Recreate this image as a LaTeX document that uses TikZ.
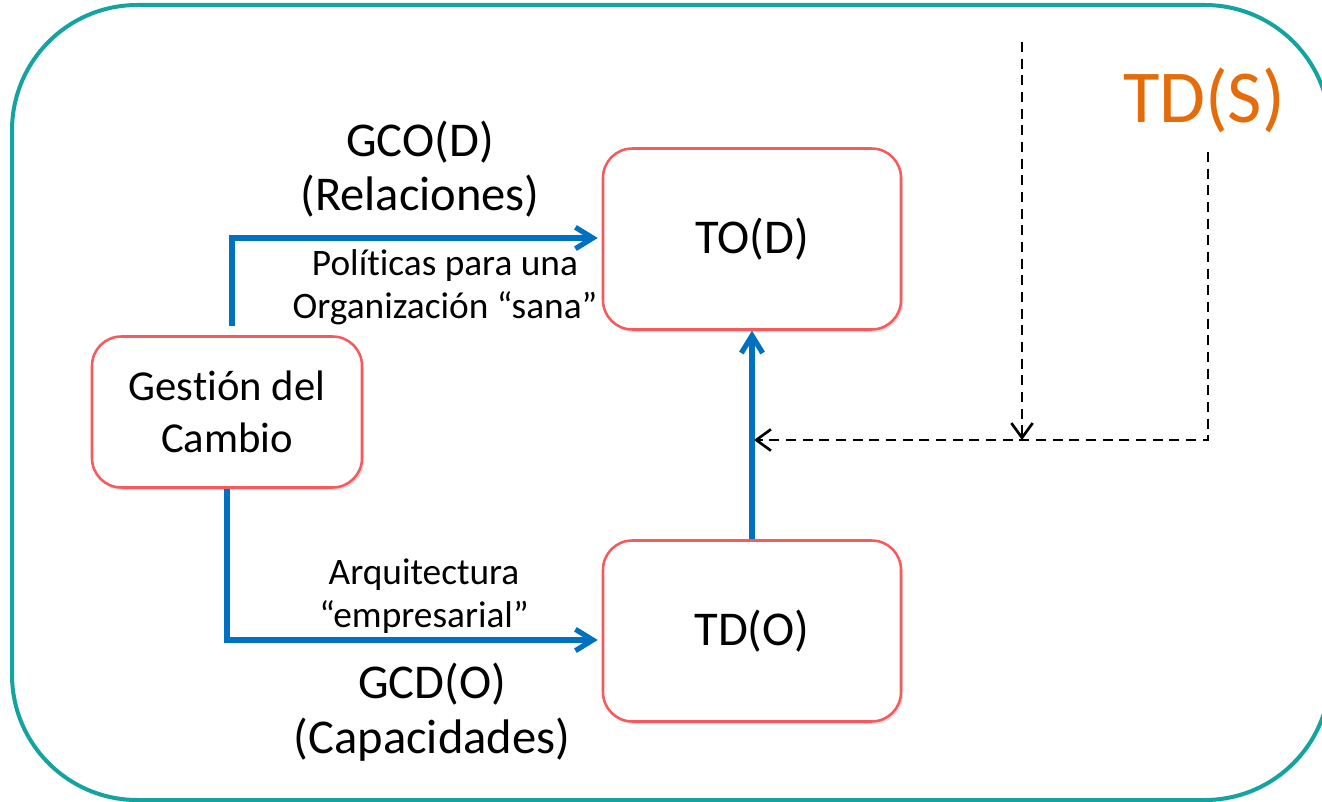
\documentclass[tikz,border=0pt]{standalone}
\usepackage{fontspec}
\setmainfont{Carlito}[Ligatures=NoCommon]
\usetikzlibrary{arrows.meta,shadows}
\definecolor{frameteal}{RGB}{20,164,160}
\definecolor{boxred}{RGB}{247,90,92}
\definecolor{flowblue}{RGB}{0,112,192}
\definecolor{tdsorange}{RGB}{228,108,10}

\begin{document}
\begin{tikzpicture}[x=0.75pt, y=-0.75pt,
    box/.style={draw=boxred, line width=1.9pt, fill=white, rounded corners=22pt, align=center,
        drop shadow={shadow xshift=1.5pt, shadow yshift=-2pt, opacity=0.25}},
    flow/.style={draw=flowblue, line width=3.9pt, -{Straight Barb[length=13pt,width=16pt]}},
    feed/.style={draw=black, line width=2pt, dash pattern=on 7.5pt off 5pt,
        -{Straight Barb[length=11pt,width=16pt]}},
    big/.style={font=\fontsize{36.4}{41}\selectfont, align=center},
    small/.style={font=\fontsize{28}{32}\selectfont, align=center}]
    \useasboundingbox (0,0) rectangle (1322,802);

    % Frame
    \draw[frameteal, line width=3pt, fill=white, rounded corners=94pt,
        drop shadow={shadow xshift=1pt, shadow yshift=-2pt, opacity=0.15}]
        (12,5) rectangle (1330,800);

    % Boxes
    \node[box, minimum width=202.5pt, minimum height=113.25pt, font=\fontsize{32}{39}\selectfont] (gest) at (227,412) {Gestión del\\Cambio};
    \node[box, minimum width=223.5pt, minimum height=135.75pt, big] (tod) at (752,239) {TO(D)};
    \node[box, minimum width=223.5pt, minimum height=135.75pt, big] (tdo) at (752,631) {TD(O)};

    % Title
    \node[text=tdsorange, font=\fontsize{56}{60}\selectfont] (tds) at (1204,100) {TD(S)};

    % Labels
    \node[big] (gco) at (420,169) {GCO(D)\\(Relaciones)};
    \node[small] (pol) at (445,287) {Políticas para una\\Organización “sana”};
    \node[small] (arq) at (424,596) {Arquitectura\\“empresarial”};
    \node[big] (gcd) at (432,712) {GCD(O)\\(Capacidades)};

    % Bends
    \coordinate (upstart) at (232,326);
    \coordinate (upbend) at (232,238);
    \coordinate (lowbend) at (228,640);
    \coordinate (dashtop) at (1022,42);
    \coordinate (dashfoot) at (1208,152);
    \coordinate (meet) at (1022,440);
    \coordinate (join) at (754,440);

    % Edges
    \draw[flow, shorten >=3pt] (upstart) -- (upbend) -- (tod.west |- upbend);
    \draw[flow, shorten >=3pt] (gest.south) -- (gest.south |- lowbend) -- (tdo.west |- lowbend);
    \draw[flow] (tdo.north) -- (tod.south);
    \draw[feed] (dashfoot) |- (join);
    \draw[feed] (dashtop) -- (meet);
\end{tikzpicture}
\end{document}
